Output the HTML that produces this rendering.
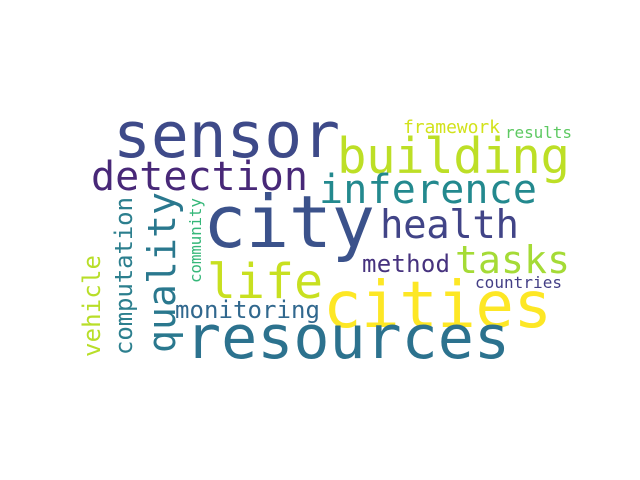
<!DOCTYPE html>
<html><head><meta charset="utf-8"><style>
html,body{margin:0;padding:0;background:#fff;width:640px;height:480px;overflow:hidden}
svg text{font-family:"DejaVu Sans Mono","Liberation Mono",monospace}
</style></head><body>
<svg width="640" height="480">
<g>
<text x="113" y="157" font-size="63" fill="#3e4a89" textLength="227">sensor</text>
<text x="337" y="173" font-size="49" fill="#bddf26" textLength="233">building</text>
<text x="91" y="190" font-size="40" fill="#482878" textLength="217">detection</text>
<text x="319" y="203" font-size="40" fill="#23898e" textLength="218">inference</text>
<text x="203" y="247" font-size="72" fill="#3b528b" textLength="172">city</text>
<text x="380" y="238" font-size="39" fill="#414487" textLength="139">health</text>
<text x="455" y="273" font-size="38" fill="#a5db36" textLength="115">tasks</text>
<text x="362" y="272" font-size="24" fill="#46327e" textLength="88">method</text>
<text x="207" y="298" font-size="48" fill="#c8e020" textLength="116">life</text>
<text x="323" y="327" font-size="64" fill="#fde725" textLength="229">cities</text>
<text x="185" y="358" font-size="60" fill="#2c728e" textLength="325">resources</text>
<text x="175" y="318" font-size="24" fill="#31688e" textLength="145">monitoring</text>
<text x="403" y="133" font-size="18" fill="#d2e21b" textLength="97">framework</text>
<text x="505" y="138" font-size="16" fill="#5ec962" textLength="67">results</text>
<text x="475" y="288" font-size="16" fill="#433e85" textLength="87">countries</text>
<text transform="translate(175,353) rotate(-90)" font-size="38" fill="#2a788e" textLength="161">quality</text>
<text transform="translate(132,355) rotate(-90)" font-size="24" fill="#2c7f8e" textLength="158">computation</text>
<text transform="translate(100,357) rotate(-90)" font-size="24" fill="#b8de29" textLength="102">vehicle</text>
<text transform="translate(201,283) rotate(-90)" font-size="16" fill="#35b779" textLength="85">community</text>
</g>
</svg>
</body></html>
